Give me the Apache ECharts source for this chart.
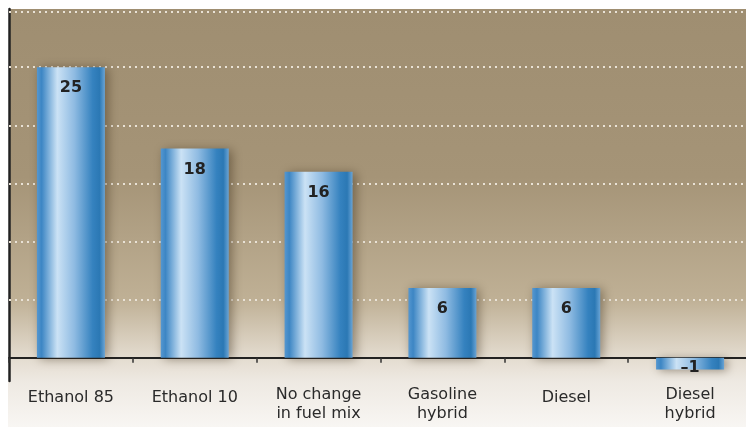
<!DOCTYPE html>
<html>
<head>
<meta charset="utf-8">
<script src="https://cdn.jsdelivr.net/npm/echarts@6/dist/echarts.min.js"></script>
<style>
  html, body { margin: 0; padding: 0; background: #ffffff; }
  #chart { width: 746px; height: 427px; }
</style>
</head>
<body>
<div id="chart"></div>
<script>
// Fuel options and their values
const categories = ['Ethanol 85', 'Ethanol 10', 'No change\nin fuel mix', 'Gasoline\nhybrid', 'Diesel', 'Diesel\nhybrid'];
const values = [25, 18, 16, 6, 6, -1];
// Dotted reference lines across the plot
const gridValues = [5, 10, 15, 20, 25, 29.75];

const chart = echarts.init(document.getElementById('chart'), null, { renderer: 'canvas' });

const barFill = new echarts.graphic.LinearGradient(0, 0, 1, 0, [
  { offset: 0.00, color: '#5597d0' },
  { offset: 0.07, color: '#3d86c4' },
  { offset: 0.30, color: '#cbe2f5' },
  { offset: 0.55, color: '#8fbbe2' },
  { offset: 0.82, color: '#3582bf' },
  { offset: 0.92, color: '#2b78b4' },
  { offset: 1.00, color: '#6aa4d5' }
]);

const plotFill = new echarts.graphic.LinearGradient(0, 0, 0, 1, [
  { offset: 0.00, color: '#9f8e71' },
  { offset: 0.45, color: '#a59477' },
  { offset: 0.78, color: '#bfb095' },
  { offset: 0.93, color: '#e2dacd' },
  { offset: 1.00, color: '#eee9e2' }
]);

chart.setOption({
  backgroundColor: '#ffffff',
  animation: false,
  graphic: [{
    type: 'rect',
    z: -1,
    shape: { x: 8, y: 381, width: 740, height: 46 },
    style: {
      fill: new echarts.graphic.LinearGradient(0, 0, 0, 1, [
        { offset: 0, color: '#eee9e2' },
        { offset: 1, color: '#f8f6f3' }
      ])
    }
  }],
  grid: {
    left: 9, right: -6, top: 9, bottom: 46,
    containLabel: false,
    outerBoundsMode: 'none',
    show: true,
    backgroundColor: plotFill,
    borderWidth: 0
  },
  xAxis: {
    type: 'category',
    data: categories,
    axisLine: { onZero: true, lineStyle: { color: '#222222', width: 2 } },
    axisTick: { show: true, interval: 0, length: 5, lineStyle: { color: '#333333', width: 1.5 } },
    axisLabel: {
      interval: 0,
      hideOverlap: false,
      margin: 4,
      color: '#2a2a2a',
      fontFamily: 'DejaVu Sans',
      fontSize: 16,
      lineHeight: 19,
      verticalAlign: 'top',
      formatter: function (v) {
        return v.indexOf('\n') >= 0 ? v : '{s|' + v + '}';
      },
      rich: {
        s: { fontFamily: 'DejaVu Sans', fontSize: 16, lineHeight: 25, color: '#2a2a2a' }
      }
    },
    splitLine: { show: false }
  },
  yAxis: {
    type: 'value',
    min: -2,
    max: 30,
    axisLine: { show: true, lineStyle: { color: '#222222', width: 2.5 } },
    axisTick: { show: false },
    axisLabel: { show: false },
    splitLine: { show: false }
  },
  series: [{
    type: 'bar',
    data: values.map(function (v) {
      const item = { value: v };
      if (v < 0) {
        item.label = { position: 'inside', offset: [0, 4] };
      }
      return item;
    }),
    barWidth: 68,
    itemStyle: {
      color: barFill,
      shadowColor: 'rgba(50, 35, 15, 0.45)',
      shadowBlur: 10,
      shadowOffsetX: 3,
      shadowOffsetY: 1
    },
    label: {
      show: true,
      position: 'insideTop',
      distance: 13,
      color: '#222222',
      fontFamily: 'DejaVu Sans',
      fontWeight: 'bold',
      fontSize: 16,
      formatter: function (p) {
        return p.value < 0 ? '\u2013' + Math.abs(p.value) : String(p.value);
      }
    },
    markLine: {
      silent: true,
      symbol: 'none',
      z: 1,
      label: { show: false },
      lineStyle: { color: '#e9e2d6', type: [2, 4], width: 2 },
      data: gridValues.map(function (g) { return { yAxis: g }; })
    }
  }]
});
</script>
</body>
</html>
